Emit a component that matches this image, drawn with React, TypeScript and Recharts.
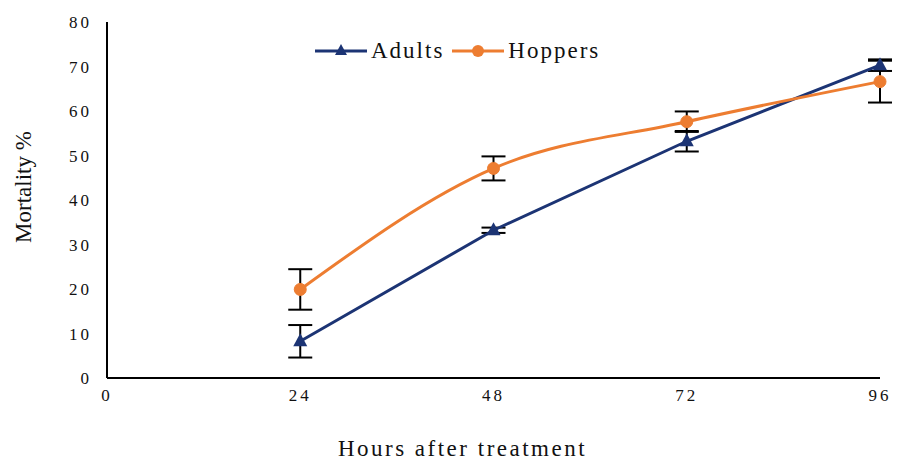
import React from 'react';
import { LineChart, Line, XAxis, YAxis, ErrorBar } from 'recharts';

const hours = [24, 48, 72, 96];
const adults = [8.25, 33.2, 53.2, 70.3];
const adultsErr = [3.65, 0.6, 2.3, 1.3];
const hoppers = [19.9, 47.1, 57.6, 66.6];
const hoppersErr = [4.55, 2.7, 2.3, 4.7];
const xTicks = [0, 24, 48, 72, 96];
const yTicks = [0, 10, 20, 30, 40, 50, 60, 70, 80];

const NAVY = '#1C3474';
const ORANGE = '#ED7D31';
const FONT = '"Liberation Serif", "DejaVu Serif", serif';

const data = hours.map((h, i) => ({
  hour: h,
  adults: adults[i],
  adultsErr: adultsErr[i],
  hoppers: hoppers[i],
  hoppersErr: hoppersErr[i],
}));

const Triangle = (props: any) => {
  const { cx, cy, index } = props;
  if (cx == null || cy == null) return null;
  return <polygon key={`tri-${index}`} points={`${cx},${cy - 8} ${cx - 7},${cy + 5} ${cx + 7},${cy + 5}`} fill={NAVY} />;
};

// legend sits inside the plot, so keep it out of recharts' layout
const LegendBox = () => (
  <div
    style={{
      position: 'absolute', left: 315, top: 38, display: 'flex', alignItems: 'center',
      fontFamily: FONT, fontSize: 23, letterSpacing: 2, color: '#111', lineHeight: '26px',
    }}
  >
    <svg width={52} height={18}>
      <line x1={0} y1={9} x2={52} y2={9} stroke={NAVY} strokeWidth={3} />
      <polygon points="26,2 20,13 32,13" fill={NAVY} />
    </svg>
    <span style={{ marginLeft: 4, marginRight: 8 }}>Adults</span>
    <svg width={52} height={18}>
      <line x1={0} y1={9} x2={52} y2={9} stroke={ORANGE} strokeWidth={3} />
      <circle cx={26} cy={9} r={6} fill={ORANGE} />
    </svg>
    <span style={{ marginLeft: 4 }}>Hoppers</span>
  </div>
);

const YLabel = (props: any) => {
  const { viewBox } = props;
  const cy = viewBox.y + viewBox.height / 2 - 13;
  return (
    <text x={31} y={cy} transform={`rotate(-90 31 ${cy})`} textAnchor="middle" fontFamily={FONT} fontSize={23} fill="#111">
      Mortality %
    </text>
  );
};

const XLabel = (props: any) => {
  const { viewBox } = props;
  const cx = viewBox.x + viewBox.width / 2 - 31;
  return (
    <text x={cx} y={456} textAnchor="middle" fontFamily={FONT} fontSize={23} letterSpacing={2.5} fill="#111">
      Hours after treatment
    </text>
  );
};

export default function App() {
  return (
    <div style={{ position: 'absolute', left: 0, top: 0, width: 900, height: 460, background: '#fff' }}>
      <LineChart width={900} height={460} data={data} margin={{ top: 22, right: 20, left: 7, bottom: 2 }}>
        <XAxis
          dataKey="hour"
          type="number"
          domain={[0, 96]}
          ticks={xTicks}
          tickLine={false}
          tickMargin={5}
          height={80}
          axisLine={{ stroke: '#000', strokeWidth: 2 }}
          tick={{ fontFamily: FONT, fontSize: 17, fill: '#111', letterSpacing: 3 }}
          label={<XLabel />}
        />
        <YAxis
          type="number"
          domain={[0, 80]}
          ticks={yTicks}
          tickLine={false}
          tickMargin={9}
          width={100}
          axisLine={{ stroke: '#000', strokeWidth: 2 }}
          tick={{ fontFamily: FONT, fontSize: 17, fill: '#111', letterSpacing: 3 }}
          label={<YLabel />}
        />
        <Line
          type="linear"
          dataKey="adults"
          name="Adults"
          stroke={NAVY}
          strokeWidth={3}
          dot={<Triangle />}
          isAnimationActive={false}
        >
          <ErrorBar dataKey="adultsErr" direction="y" width={12} stroke="#000" strokeWidth={2} />
        </Line>
        <Line
          type="monotone"
          dataKey="hoppers"
          name="Hoppers"
          stroke={ORANGE}
          strokeWidth={3}
          dot={{ r: 6, fill: ORANGE, stroke: ORANGE, strokeWidth: 1 }}
          isAnimationActive={false}
        >
          <ErrorBar dataKey="hoppersErr" direction="y" width={12} stroke="#000" strokeWidth={2} />
        </Line>
      </LineChart>
      <LegendBox />
    </div>
  );
}
